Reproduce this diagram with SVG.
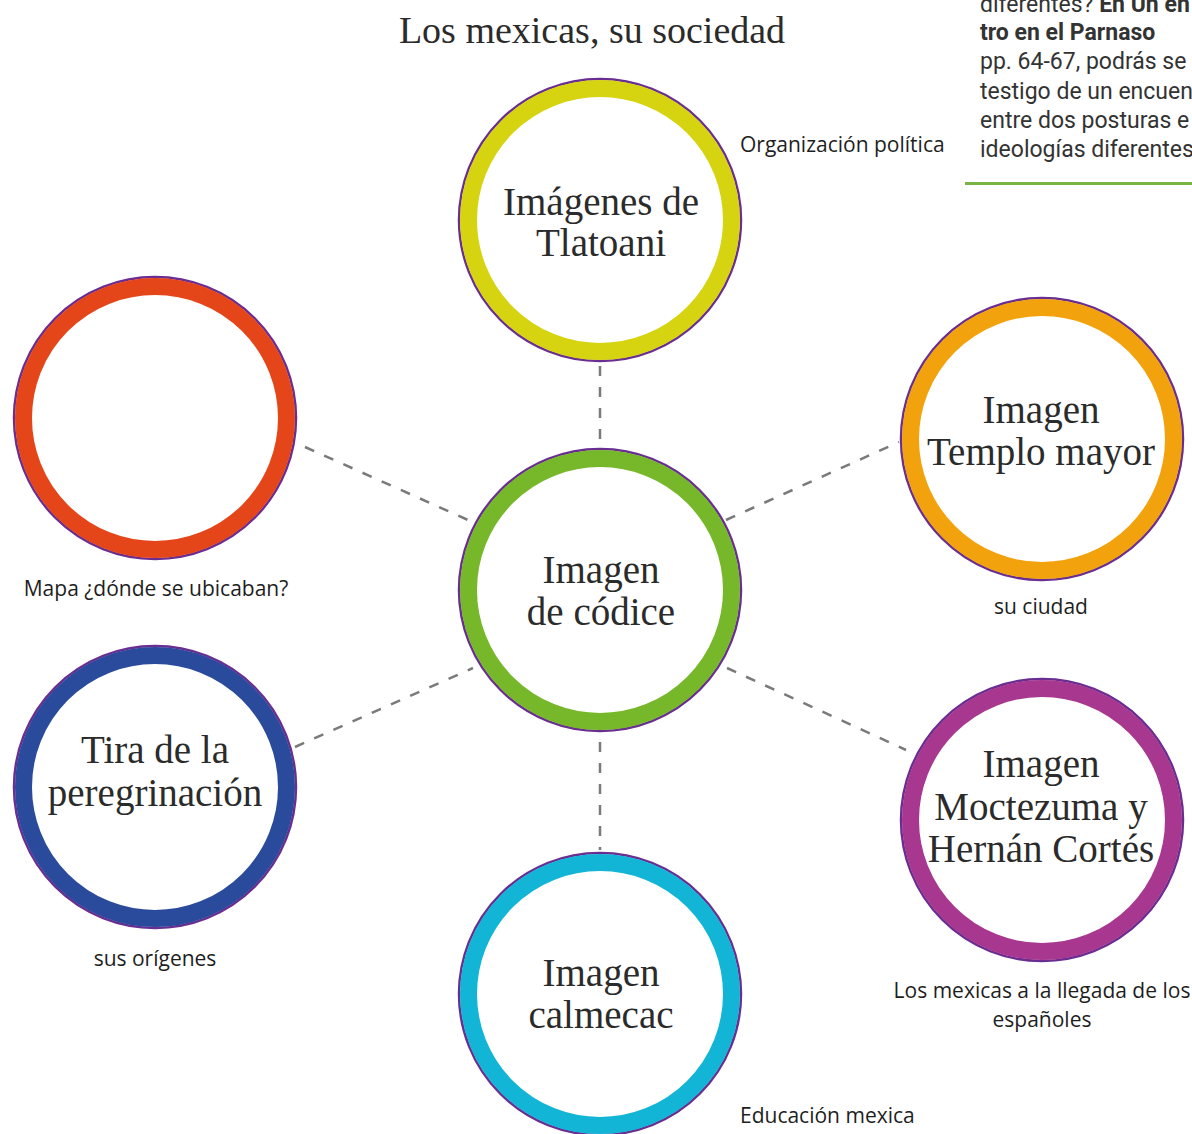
<svg xmlns="http://www.w3.org/2000/svg" width="1192" height="1134" viewBox="0 0 1192 1134">
<style>
.bg{fill:#ffffff}
.edge{fill:#ffffff;stroke:#6a2d91;stroke-width:2.5}
.ring{fill:none;stroke-width:17}
.t{font-family:"Liberation Serif","DejaVu Serif",serif;font-size:39px;fill:#2b2b2b;text-anchor:middle}
.title{font-family:"Liberation Serif","DejaVu Serif",serif;font-size:38px;fill:#2b2b2b;text-anchor:middle}
.lab{font-family:"Open Sans","Noto Sans",sans-serif;font-size:21px;fill:#1e1e1e}
.mid{text-anchor:middle}
.side{font-family:Roboto,"Liberation Sans",sans-serif;font-size:23px;fill:#333333}
.b{font-weight:bold}
.conn line{stroke:#7a7a7a;stroke-width:2.5;stroke-dasharray:10 11;fill:none}
</style>
<rect class="bg" x="0" y="0" width="1192" height="1134"/>

<g id="sidebar">
<text class="side" x="980" y="12">diferentes? <tspan class="b">En Un en</tspan></text>
<text class="side b" x="980" y="40">tro en el Parnaso</text>
<text class="side" x="980" y="69">pp. 64-67, podrás se</text>
<text class="side" x="980" y="99">testigo de un encuen</text>
<text class="side" x="980" y="128">entre dos posturas e</text>
<text class="side" x="980" y="157">ideologías diferentes</text>
<line x1="965" y1="183.5" x2="1192" y2="183.5" stroke="#78b443" stroke-width="3"/>
</g>

<text id="title" class="title" x="592" y="43">Los mexicas, su sociedad</text>

<g class="conn" id="connectors">
<line x1="600" y1="366" x2="600" y2="444"/>
<line x1="305" y1="447" x2="468" y2="520"/>
<line x1="726" y1="520" x2="899" y2="442"/>
<line x1="295" y1="747" x2="473" y2="668"/>
<line x1="727" y1="668" x2="906" y2="750"/>
<line x1="600" y1="742" x2="600" y2="850"/>
</g>

<g id="tlatoani">
<circle class="edge" cx="600" cy="220" r="141"/>
<circle class="ring" cx="600" cy="220" r="131.5" stroke="#d6d411"/>
<text class="t" x="601" y="215">Imágenes de</text>
<text class="t" x="601" y="256">Tlatoani</text>
<text class="lab" x="740" y="152">Organización política</text>
</g>

<g id="codice">
<circle class="edge" cx="600" cy="590" r="141"/>
<circle class="ring" cx="600" cy="590" r="131.5" stroke="#76b82a"/>
<text class="t" x="601" y="583">Imagen</text>
<text class="t" x="601" y="625">de códice</text>
</g>

<g id="mapa">
<circle class="edge" cx="155" cy="418" r="141"/>
<circle class="ring" cx="155" cy="418" r="131.5" stroke="#e4461a"/>
<text class="lab mid" x="156" y="596">Mapa ¿dónde se ubicaban?</text>
</g>

<g id="templo">
<circle class="edge" cx="1042" cy="439" r="141"/>
<circle class="ring" cx="1042" cy="439" r="131.5" stroke="#f2a20c"/>
<text class="t" x="1041" y="423">Imagen</text>
<text class="t" x="1041" y="465">Templo mayor</text>
<text class="lab mid" x="1041" y="614">su ciudad</text>
</g>

<g id="tira">
<circle class="edge" cx="155" cy="787" r="141"/>
<circle class="ring" cx="155" cy="787" r="131.5" stroke="#2a4b9b"/>
<text class="t" x="155" y="763">Tira de la</text>
<text class="t" x="155" y="806">peregrinación</text>
<text class="lab mid" x="155" y="966">sus orígenes</text>
</g>

<g id="moctezuma">
<circle class="edge" cx="1042" cy="820" r="141"/>
<circle class="ring" cx="1042" cy="820" r="131.5" stroke="#a8378f"/>
<text class="t" x="1041" y="777">Imagen</text>
<text class="t" x="1041" y="820">Moctezuma y</text>
<text class="t" x="1041" y="862">Hernán Cortés</text>
<text class="lab mid" x="1042" y="998">Los mexicas a la llegada de los</text>
<text class="lab mid" x="1042" y="1027">españoles</text>
</g>

<g id="calmecac">
<circle class="edge" cx="600" cy="994" r="141"/>
<circle class="ring" cx="600" cy="994" r="131.5" stroke="#13b5d6"/>
<text class="t" x="601" y="986">Imagen</text>
<text class="t" x="601" y="1028">calmecac</text>
<text class="lab" x="740" y="1123">Educación mexica</text>
</g>
</svg>
